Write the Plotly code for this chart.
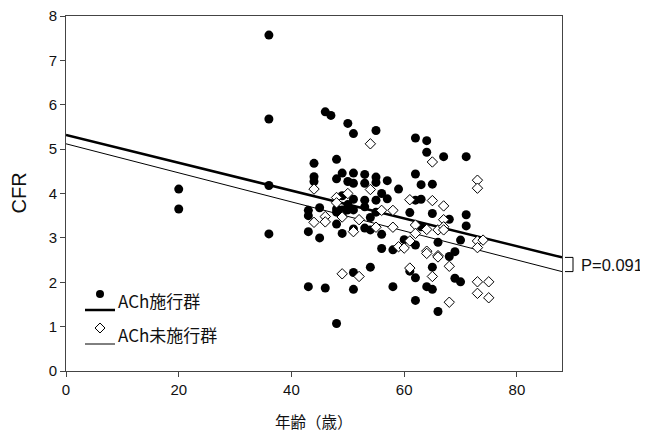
import plotly.graph_objects as go

# ACh施行群 (filled circles)
ach_age = [20, 20, 36, 36, 36, 36, 43, 43, 43, 43, 44, 44, 44, 45, 45, 46, 47, 46,
           48, 48, 48, 48, 48, 48, 49, 49, 49, 49, 49, 50, 50, 50, 50,
           51, 51, 51, 51, 51, 51, 51, 51, 53, 53, 53, 53, 53, 54, 54, 54,
           55, 55, 55, 55, 55, 56, 56, 56, 57, 57, 58, 58, 59, 60, 61, 61,
           62, 62, 62, 62, 62, 62, 63, 63, 63, 64, 64, 64, 65, 65, 65, 65,
           66, 66, 67, 68, 68, 69, 69, 70, 70, 71, 71, 71]
ach_cfr = [4.10, 3.65, 7.57, 5.68, 4.18, 3.09, 3.62, 3.50, 3.14, 1.90, 4.68, 4.38, 4.27, 3.68, 3.00, 5.84, 5.76, 1.87,
           4.77, 4.33, 3.65, 3.58, 3.31, 1.07, 4.46, 3.95, 3.63, 3.52, 3.10, 5.58, 4.27, 3.63, 3.75,
           5.35, 4.46, 4.23, 3.87, 3.63, 3.20, 2.22, 1.84, 4.43, 4.23, 3.85, 3.70, 3.22, 3.46, 3.18, 2.34,
           5.42, 4.37, 4.25, 3.85, 3.58, 4.00, 3.08, 2.76, 4.29, 3.88, 2.73, 1.90, 4.10, 2.96, 3.57, 2.25,
           5.25, 4.44, 3.85, 2.84, 2.10, 1.59, 4.20, 3.87, 3.25, 5.19, 4.93, 1.90, 4.21, 3.55, 2.34, 1.84,
           2.90, 1.34, 4.83, 3.42, 2.58, 2.69, 2.09, 2.95, 2.01, 4.83, 3.52, 3.27]

# ACh未施行群 (open diamonds)
non_age = [44, 44, 46, 46, 48, 48, 49, 49, 50, 51, 52, 52, 54, 54, 55, 56, 58, 58,
           59, 60, 61, 61, 61, 62, 62, 64, 64, 64, 65, 65, 65, 66, 66, 66,
           67, 67, 67, 67, 68, 68, 73, 73, 73, 73, 73, 73, 74, 75, 75]
non_cfr = [4.10, 3.35, 3.48, 3.36, 3.91, 3.79, 3.47, 2.19, 4.00, 3.14, 3.41, 2.13, 5.12, 4.09, 3.24, 3.62, 3.62, 3.24,
           2.80, 2.77, 3.86, 2.93, 2.32, 3.29, 3.10, 3.19, 2.70, 2.65, 4.71, 3.84, 2.13, 3.18, 2.60, 2.57,
           3.72, 3.41, 3.25, 3.18, 2.36, 1.55, 4.30, 4.12, 2.93, 2.78, 2.01, 1.75, 2.95, 2.01, 1.65]

# regression lines
fit_x = [0, 88]
ach_fit = [5.32, 2.56]
non_fit = [5.12, 2.24]

x_ticks = [0, 20, 40, 60, 80]
y_ticks = [0, 1, 2, 3, 4, 5, 6, 7, 8]

fig = go.Figure()
fig.add_trace(go.Scatter(x=fit_x, y=ach_fit, mode="lines",
                         line=dict(color="black", width=2.5), showlegend=False, hoverinfo="skip"))
fig.add_trace(go.Scatter(x=fit_x, y=non_fit, mode="lines",
                         line=dict(color="black", width=1), showlegend=False, hoverinfo="skip"))
fig.add_trace(go.Scatter(x=ach_age, y=ach_cfr, mode="markers", name="ACh施行群",
                         marker=dict(symbol="circle", size=9, color="black"), showlegend=False))
fig.add_trace(go.Scatter(x=non_age, y=non_cfr, mode="markers", name="ACh未施行群",
                         marker=dict(symbol="diamond", size=8, color="white",
                                     line=dict(color="black", width=1)), showlegend=False))

axis_font = dict(family="Liberation Sans, Arial, sans-serif", size=15, color="#111")
fig.update_xaxes(range=[0, 88], tickvals=x_ticks, ticks="outside", ticklen=5, tickcolor="#444",
                 showline=True, linecolor="#444", linewidth=1, mirror=True, showgrid=False,
                 zeroline=False, tickfont=axis_font, automargin=False)
fig.update_yaxes(range=[0, 8], tickvals=y_ticks, ticks="outside", ticklen=5, tickcolor="#444",
                 showline=True, linecolor="#444", linewidth=1, mirror=True, showgrid=False,
                 zeroline=False, tickfont=axis_font, automargin=False, ticklabeloverflow="allow")

# helpers: page pixels -> paper coords of the plot area (page has 8px body margin)
def px(x):
    return (x - 66) / 496

def py(y):
    return (371 - y) / 355

shapes = []
annotations = []
# legend entries
shapes.append(dict(type="circle", xref="paper", yref="paper",
                   x0=px(96), x1=px(104), y0=py(298), y1=py(290),
                   fillcolor="black", line=dict(color="black", width=0)))
shapes.append(dict(type="line", xref="paper", yref="paper",
                   x0=px(85), x1=px(115), y0=py(310), y1=py(310),
                   line=dict(color="black", width=2.5)))
shapes.append(dict(type="path", xref="paper", yref="paper",
                   path=f"M {px(100)} {py(323)} L {px(105)} {py(328)} L {px(100)} {py(333)} L {px(95)} {py(328)} Z",
                   fillcolor="white", line=dict(color="black", width=1)))
shapes.append(dict(type="line", xref="paper", yref="paper",
                   x0=px(85), x1=px(115), y0=py(344), y1=py(344),
                   line=dict(color="black", width=1)))
annotations.append(dict(xref="paper", yref="paper", x=px(116), y=py(300), text="ACh施行群",
                        showarrow=False, xanchor="left", yanchor="middle",
                        font=dict(family="Noto Sans CJK JP", size=17, color="#111")))
annotations.append(dict(xref="paper", yref="paper", x=px(116), y=py(334), text="ACh未施行群",
                        showarrow=False, xanchor="left", yanchor="middle",
                        font=dict(family="Noto Sans CJK JP", size=17, color="#111")))
# axis titles
annotations.append(dict(xref="paper", yref="paper", x=0.5, y=py(421), text="年齢（歳）",
                        showarrow=False, xanchor="center", yanchor="middle",
                        font=dict(family="Noto Sans CJK JP", size=15.5, color="#111")))
annotations.append(dict(xref="paper", yref="paper", x=px(18), y=0.5, text="CFR", textangle=-90,
                        showarrow=False, xanchor="center", yanchor="middle",
                        font=dict(family="Liberation Sans, Arial", size=20, color="#111")))
# bracket for P value
shapes.append(dict(type="path", xref="paper", yref="y",
                   path=f"M {px(565)} {ach_fit[-1]} L {px(573)} {ach_fit[-1]} L {px(573)} {non_fit[-1]} L {px(565)} {non_fit[-1]}",
                   line=dict(color="black", width=1)))
annotations.append(dict(xref="paper", yref="y", x=px(579), y=(ach_fit[-1] + non_fit[-1]) / 2,
                        text="P=0.091", showarrow=False, xanchor="left", yanchor="middle",
                        font=dict(family="Liberation Sans, Arial", size=16.5, color="#111")))

fig.update_layout(width=640, height=426, margin=dict(l=58, r=86, t=8, b=63),
                  plot_bgcolor="white", paper_bgcolor="white",
                  shapes=shapes, annotations=annotations)
fig.write_html("out.html")
